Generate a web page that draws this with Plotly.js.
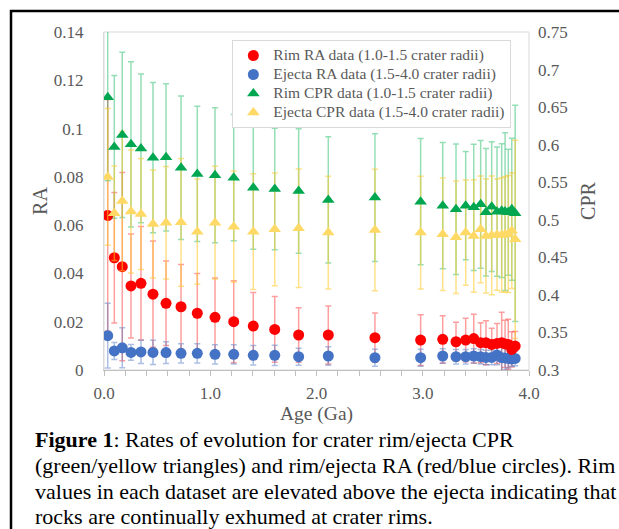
<!DOCTYPE html>
<html>
<head>
<meta charset="utf-8">
<script src="https://cdn.plot.ly/plotly-3.0.1.min.js"></script>
<style>html,body{margin:0;padding:0;background:#fff;}#chart{width:619px;height:529px;}</style>
</head>
<body>
<div id="chart"></div>
<script>
// Age (Ga) of each crater bin
const ages = [0.035, 0.097, 0.172, 0.254, 0.348, 0.461, 0.584, 0.725, 0.878, 1.045, 1.221, 1.405, 1.607, 1.832, 2.111, 2.550, 2.980, 3.188, 3.313, 3.404, 3.480, 3.545, 3.595, 3.649, 3.699, 3.743, 3.775, 3.805, 3.838, 3.870];

// Rim RA (1.0-1.5 crater radii)
const rimRA = [0.0640, 0.0465, 0.0428, 0.0348, 0.0359, 0.0314, 0.0276, 0.0262, 0.0235, 0.0218, 0.0200, 0.0182, 0.0168, 0.0145, 0.0145, 0.0134, 0.0124, 0.0127, 0.0117, 0.0124, 0.0130, 0.0113, 0.0113, 0.0106, 0.0110, 0.0113, 0.0108, 0.0106, 0.0085, 0.0099];
const rimRAErr = [0.048, 0.027, 0.039, 0.0215, 0.0235, 0.022, 0.0175, 0.0175, 0.0165, 0.0163, 0.017, 0.0139, 0.0136, 0.0113, 0.012, 0.0102, 0.0105, 0.0098, 0.0081, 0.009, 0.0101, 0.0083, 0.0091, 0.0067, 0.0083, 0.0126, 0.0098, 0.0104, 0.0073, 0.006];

// Ejecta RA (1.5-4.0 crater radii)
const ejectaRA = [0.0142, 0.0079, 0.0092, 0.0073, 0.0075, 0.0073, 0.0072, 0.0069, 0.0069, 0.0065, 0.0065, 0.0061, 0.0061, 0.0055, 0.0058, 0.0051, 0.0051, 0.0058, 0.0055, 0.0055, 0.0058, 0.0055, 0.0052, 0.0052, 0.0062, 0.0051, 0.0050, 0.0048, 0.0046, 0.0048];
const ejectaRAErr = [0.0134, 0.0035, 0.0083, 0.0033, 0.0048, 0.005, 0.0045, 0.004, 0.004, 0.004, 0.004, 0.004, 0.0042, 0.0035, 0.0038, 0.0035, 0.0035, 0.003, 0.003, 0.003, 0.003, 0.003, 0.003, 0.003, 0.004, 0.006, 0.005, 0.004, 0.003, 0.003];

// Rim CPR (1.0-1.5 crater radii)
const rimCPR = [0.663, 0.597, 0.613, 0.6005, 0.595, 0.5827, 0.5832, 0.5694, 0.561, 0.5593, 0.5561, 0.5428, 0.541, 0.5383, 0.5264, 0.5295, 0.5241, 0.5188, 0.514, 0.5188, 0.5166, 0.5206, 0.510, 0.5175, 0.5108, 0.5121, 0.511, 0.510, 0.514, 0.5086];
const rimCPRErr = [0.111, 0.095, 0.11, 0.11, 0.099, 0.1, 0.098, 0.0955, 0.09, 0.09, 0.084, 0.082, 0.081, 0.083, 0.084, 0.085, 0.084, 0.084, 0.087, 0.072, 0.084, 0.085, 0.085, 0.0865, 0.086, 0.089, 0.105, 0.084, 0.0945, 0.144];

// Ejecta CPR (1.5-4.0 crater radii)
const ejectaCPR = [0.557, 0.5087, 0.525, 0.511, 0.5077, 0.4944, 0.496, 0.4966, 0.4842, 0.4961, 0.4908, 0.4842, 0.4873, 0.4887, 0.4829, 0.4864, 0.4829, 0.4807, 0.4767, 0.4829, 0.4784, 0.4873, 0.4784, 0.4793, 0.4802, 0.4798, 0.4805, 0.4811, 0.4855, 0.474];
const ejectaCPRErr = [0.091, 0.063, 0.093, 0.082, 0.074, 0.072, 0.075, 0.085, 0.07, 0.075, 0.074, 0.077, 0.075, 0.079, 0.075, 0.081, 0.075, 0.075, 0.075, 0.07, 0.075, 0.071, 0.076, 0.079, 0.074, 0.076, 0.077, 0.078, 0.077, 0.132];

const seriesNames = [
  'Rim RA data (1.0-1.5 crater radii)',
  'Ejecta RA data (1.5-4.0 crater radii)',
  'Rim CPR data (1.0-1.5 crater radii)',
  'Ejecta CPR data (1.5-4.0 crater radii)'
];

const captionLines = [
  '<b>Figure 1</b>: Rates of evolution for crater rim/ejecta CPR',
  '(green/yellow triangles) and rim/ejecta RA (red/blue circles). Rim',
  'values in each dataset are elevated above the ejecta indicating that',
  'rocks are continually exhumed at crater rims.'
];

const SERIF = 'Liberation Serif';
const GREY = '#595959';

function errTrace(y, err, axis, color) {
  return {
    x: ages, y: y, yaxis: axis, mode: 'markers', showlegend: false, hoverinfo: 'skip',
    marker: {size: 11, color: 'rgba(0,0,0,0)'},
    error_y: {type: 'data', array: err, visible: true, color: color, thickness: 1.5, width: 3}
  };
}
function markTrace(y, axis, name, color, symbol, rank) {
  return {
    x: ages, y: y, yaxis: axis, mode: 'markers', legendrank: rank,
    name: '<span style="font-size:15.5px">' + name + '</span>',
    marker: {size: 11, color: color, symbol: symbol, line: {width: 0}}
  };
}

const data = [
  errTrace(rimRA, rimRAErr, 'y', 'rgba(255,0,0,0.38)'),
  errTrace(ejectaRA, ejectaRAErr, 'y', 'rgba(68,114,196,0.45)'),
  markTrace(ejectaRA, 'y', seriesNames[1], '#4472C4', 'circle', 2),
  markTrace(rimRA, 'y', seriesNames[0], '#FF0000', 'circle', 1),
  errTrace(rimCPR, rimCPRErr, 'y2', 'rgba(0,176,80,0.42)'),
  errTrace(ejectaCPR, ejectaCPRErr, 'y2', 'rgba(255,200,40,0.55)'),
  markTrace(rimCPR, 'y2', seriesNames[2], '#00A650', 'triangle-up', 3),
  markTrace(ejectaCPR, 'y2', seriesNames[3], '#FFD966', 'triangle-up', 4)
];

const annotations = captionLines.map((t, i) => ({
  text: t, xref: 'paper', yref: 'paper', x: -0.1671, y: [-0.2071, -0.2840, -0.3609, -0.4349][i],
  xanchor: 'left', yanchor: 'middle', showarrow: false, align: 'left',
  font: {family: SERIF, size: 22, color: '#000000'}
}));

const tickFont = {family: SERIF, size: 17, color: GREY};
const titleFont = {family: SERIF, size: 20, color: GREY};

const layout = {
  width: 619, height: 529,
  margin: {l: 104, r: 90, t: 32, b: 159, pad: 0},
  paper_bgcolor: '#ffffff', plot_bgcolor: '#ffffff',
  font: {family: SERIF, color: GREY, size: 17},
  showlegend: true,
  legend: {x: 0.302, y: 0.9763, xanchor: 'left', yanchor: 'top', bgcolor: '#ffffff',
           bordercolor: '#d9d9d9', borderwidth: 1, font: {family: SERIF, size: 11.5, color: GREY}},
  xaxis: {range: [0, 4], dtick: 1, tick0: 0, tickformat: '.1f', ticks: 'outside', ticklen: 5,
          tickcolor: '#bfbfbf', minor: {dtick: 0.2, ticks: 'outside', ticklen: 5, tickcolor: '#bfbfbf'},
          showline: true, linecolor: '#bfbfbf', showgrid: false, zeroline: false,
          tickfont: tickFont, ticklabelstandoff: 3,
          title: {text: 'Age (Ga)', font: {family: SERIF, size: 19.5, color: GREY}, standoff: 3}},
  yaxis: {range: [0, 0.14], dtick: 0.02, ticks: '', showline: true, linecolor: '#d9d9d9',
          showgrid: false, zeroline: false, tickfont: tickFont, ticklabelstandoff: 16,
          title: {text: 'RA', font: titleFont, standoff: 0}},
  yaxis2: {range: [0.3, 0.75], dtick: 0.05, overlaying: 'y', side: 'right', ticks: '',
           showline: false, showgrid: false, zeroline: false, tickfont: tickFont, ticklabelstandoff: 8,
           title: {text: 'CPR', font: titleFont, standoff: 14}},
  shapes: [
    {type: 'rect', xref: 'paper', yref: 'paper', x0: 0, x1: 1, y0: 0, y1: 1,
     line: {color: '#d9d9d9', width: 1}, layer: 'below'},
    {type: 'rect', xref: 'paper', yref: 'paper', x0: -0.2188, x1: 1.26, y0: -0.52, y1: 1.0621,
     line: {color: '#000000', width: 2.5}}
  ],
  annotations: annotations
};

Plotly.newPlot('chart', data, layout, {displayModeBar: false, staticPlot: true});
</script>
</body>
</html>
